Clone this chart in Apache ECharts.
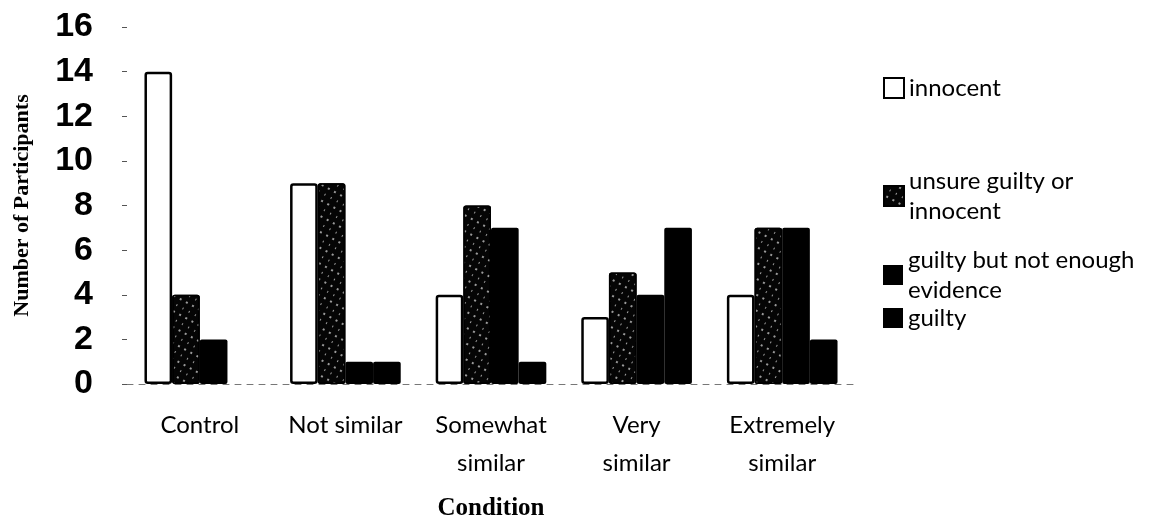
<!DOCTYPE html>
<html>
<head>
<meta charset="utf-8">
<script src="https://cdn.jsdelivr.net/npm/echarts@6/dist/echarts.min.js"></script>
<style>
  html, body { margin: 0; padding: 0; background: #fff; }
  #chart { width: 1154px; height: 521px; }
</style>
</head>
<body>
<div id="chart"></div>
<script>
// Verdicts per condition
const categories = ['Control', 'Not similar', 'Somewhat\nsimilar', 'Very\nsimilar', 'Extremely\nsimilar'];
const seriesNames = ['innocent', 'unsure guilty or innocent', 'guilty but not enough evidence', 'guilty'];
const legendLabels = ['innocent', 'unsure guilty or\ninnocent', 'guilty but not enough\nevidence', 'guilty'];
const innocent = [14, 9, 4, 3, 4];
const unsure = [4, 9, 8, 5, 7];
const guiltyNotEnough = [2, 1, 7, 4, 7];
const guilty = [0, 1, 1, 7, 2];
const yMin = 0, yMax = 16, yStep = 2;

const serifFont = '"Liberation Serif", "Times New Roman", serif';
const textFont = 'Lato, "Open Sans", sans-serif';

// white speckles on the black "unsure" bars
const speckle = {
  color: '#ffffff',
  symbol: 'rect',
  symbolSize: 0.8,
  dashArrayX: [[2, 5], [1, 6]],
  dashArrayY: [2, 5],
  rotation: 0.5
};

const styles = [
  { color: '#fff', borderColor: '#000', borderWidth: 2.5, borderRadius: 2 },
  { color: '#050505', borderColor: '#000', borderWidth: 1.5, borderRadius: 2, decal: speckle },
  { color: '#000', borderColor: '#000', borderWidth: 0, borderRadius: 2 },
  { color: '#000', borderColor: '#000', borderWidth: 0, borderRadius: 2 }
];
const values = [innocent, unsure, guiltyNotEnough, guilty];

// legend icon centres (px from top)
const legendCentres = [88, 166, 245, 318];

const chart = echarts.init(document.getElementById('chart'), null, { renderer: 'canvas' });

const legends = seriesNames.map((name, i) => {
  const twoLine = legendLabels[i].indexOf('\n') >= 0;
  return {
    show: true,
    orient: 'vertical',
    left: 883,
    top: legendCentres[i] - 15,
    padding: 0,
    itemWidth: 20,
    itemHeight: 20,
    itemGap: 0,
    icon: 'rect',
    selectedMode: false,
    data: [name],
    formatter: () => legendLabels[i],
    textStyle: {
      fontFamily: textFont,
      fontSize: 24,
      color: '#000',
      lineHeight: 30,
      padding: twoLine ? [30, 0, 0, 0] : 0
    }
  };
});

chart.setOption({
  backgroundColor: '#fff',
  animation: false,
  aria: { enabled: false },
  grid: { left: 127, right: 299, top: 27, bottom: 137, containLabel: false, outerBoundsMode: 'none' },
  legend: legends,
  xAxis: {
    type: 'category',
    data: categories,
    name: 'Condition',
    nameLocation: 'middle',
    nameGap: 112,
    nameTextStyle: { fontFamily: serifFont, fontWeight: 'bold', fontSize: 25, color: '#000' },
    axisLine: { show: true, lineStyle: { color: '#777', width: 1, type: [6, 6] } },
    axisTick: { show: false },
    axisLabel: {
      fontFamily: textFont,
      fontSize: 24,
      color: '#000',
      lineHeight: 38,
      margin: 22,
      interval: 0
    },
    splitLine: { show: false }
  },
  yAxis: {
    type: 'value',
    min: yMin,
    max: yMax,
    interval: yStep,
    name: 'Number of Participants',
    nameLocation: 'middle',
    nameRotate: 90,
    nameGap: 94,
    nameTextStyle: { fontFamily: serifFont, fontWeight: 'bold', fontSize: 22, color: '#000' },
    axisLine: { show: false },
    axisTick: { show: true, length: 5, lineStyle: { color: '#555', width: 1 } },
    axisLabel: {
      fontFamily: '"Liberation Sans", Arial, sans-serif',
      fontWeight: 'bold',
      fontSize: 34,
      color: '#000',
      margin: 34
    },
    splitLine: { show: false }
  },
  series: seriesNames.map((name, i) => ({
    name: name,
    type: 'bar',
    data: values[i],
    barGap: '0%',
    barCategoryGap: '24%',
    itemStyle: styles[i],
    emphasis: { disabled: true }
  }))
});
</script>
</body>
</html>
